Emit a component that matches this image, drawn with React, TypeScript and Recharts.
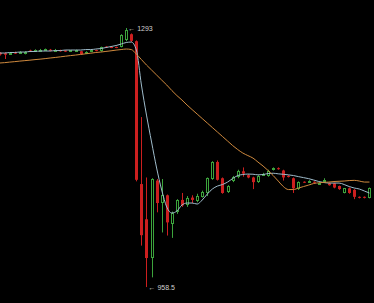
import { Bar, ComposedChart, Line, ReferenceDot, XAxis, YAxis } from "recharts";

const days = Array.from({ length: 74 }, (_unused, i) => `D${i + 1}`);

const opens = [
  1261, 1260.5, 1259, 1261.5, 1260, 1259.5, 1264, 1263, 1263.5, 1264,
  1265, 1263.5, 1264.5, 1264, 1262.5, 1263, 1263, 1260, 1262.5, 1264.5,
  1263, 1269, 1268.5, 1268.5, 1268.5, 1277.5, 1285, 1276, 1091.5, 1046,
  996, 1096, 1067, 1077, 1040, 1055, 1071, 1064, 1074, 1070,
  1075, 1080, 1098, 1120, 1099, 1081, 1095, 1100, 1108, 1103,
  1100, 1094, 1103, 1102, 1110, 1112, 1109, 1102, 1099, 1085,
  1094.5, 1095, 1094.5, 1092, 1095, 1092.5, 1092.5, 1089, 1080, 1086,
  1084, 1075, 1075, 1073.5,
];

const closes = [
  1259, 1258.5, 1261, 1260, 1262, 1262.5, 1262.5, 1264.5, 1265, 1265.5,
  1263.5, 1265, 1263, 1262.5, 1264, 1264.5, 1259, 1262.5, 1264, 1263.5,
  1268.5, 1268, 1267.5, 1267.5, 1284, 1290, 1276.5, 1097, 1025.5, 996,
  1098, 1067, 1077, 1042, 1054, 1071, 1064, 1074, 1071, 1076,
  1081, 1099, 1120, 1097, 1080, 1089, 1101, 1109, 1105, 1100,
  1094, 1102, 1104.5, 1109, 1112, 1111, 1100, 1101, 1086, 1094,
  1093.5, 1096, 1093.5, 1093, 1097, 1090, 1087, 1085, 1086, 1080,
  1075, 1074, 1074, 1086,
];

const highs = [
  1262, 1261.5, 1262, 1262.5, 1263, 1263, 1265, 1265.5, 1266, 1266.5,
  1266, 1266, 1265, 1264.5, 1264.5, 1265, 1263.5, 1263, 1264.5, 1265,
  1269, 1269.5, 1269, 1269, 1285, 1293, 1286, 1277, 1178, 1100,
  1099, 1098, 1098, 1078, 1056, 1072, 1080, 1076, 1077, 1079,
  1083, 1100, 1121, 1122, 1100, 1090, 1102, 1110, 1113, 1104,
  1101, 1103, 1106, 1110, 1113, 1113, 1110, 1103, 1100, 1095,
  1095, 1096.5, 1095, 1093.5, 1099, 1093, 1093, 1089.5, 1086.5, 1087,
  1085, 1075.5, 1075.5, 1087,
];

const lows = [
  1257.5, 1253, 1258.5, 1259.5, 1259.5, 1259, 1262, 1262.5, 1263, 1263.5,
  1263, 1263, 1262.5, 1262, 1262, 1262.5, 1258.5, 1259.5, 1262, 1263,
  1262.5, 1267.5, 1267, 1267, 1268, 1276, 1275, 1095, 1012, 958.5,
  971, 1055, 1029, 1025, 1022, 1053, 1062, 1062, 1067, 1068,
  1074, 1076, 1097, 1096, 1079, 1080, 1094, 1099, 1101, 1099,
  1085, 1093, 1102, 1101, 1109, 1110, 1096, 1100, 1080, 1084,
  1093, 1094.5, 1093, 1091.5, 1094.5, 1089.5, 1086, 1084, 1079.5, 1079,
  1072, 1073, 1073, 1073,
];

// moving averages
const maFast = [
  1260.7, 1260.7, 1261.4, 1261.4, 1262.0, 1262.0, 1262.7, 1262.7, 1263.3, 1263.3,
  1263.3, 1263.9, 1263.9, 1264.6, 1264.6, 1264.6, 1264.6, 1265.2, 1265.2, 1265.9,
  1266.5, 1267.8, 1269.1, 1270.4, 1272.3, 1274.3, 1274.9, 1264.6, 1219.4, 1180.6,
  1145.8, 1112.2, 1083.8, 1061.8, 1054.1, 1056.7, 1064.4, 1067.0, 1067.0, 1065.7,
  1070.9, 1078.6, 1085.1, 1088.9, 1090.9, 1094.1, 1098.6, 1102.5, 1103.8, 1104.4,
  1104.2, 1103.4, 1103.8, 1105.1, 1105.5, 1104.7, 1104.1, 1103.4, 1102.5, 1101.1,
  1099.8, 1098.5, 1096.7, 1094.8, 1093.5, 1092.8, 1092.8, 1092.8, 1090.9, 1088.3,
  1086.4, 1085.1, 1082.5, 1079.9,
];

const maSlow = [
  1247.8, 1248.3, 1249.0, 1249.6, 1250.3, 1250.9, 1251.5, 1252.2, 1252.8, 1253.5,
  1254.3, 1255.0, 1255.8, 1256.6, 1257.4, 1258.1, 1258.9, 1259.7, 1260.5, 1261.4,
  1262.0, 1262.8, 1263.6, 1264.5, 1265.2, 1265.9, 1265.2, 1259.4, 1252.3, 1245.2,
  1238.8, 1232.3, 1225.8, 1219.4, 1212.3, 1205.8, 1200.0, 1193.6, 1187.7, 1181.9,
  1176.1, 1170.3, 1164.5, 1158.7, 1152.9, 1147.1, 1141.2, 1136.1, 1131.6, 1128.3,
  1125.1, 1119.9, 1114.8, 1109.0, 1102.5, 1095.4, 1088.3, 1084.4, 1084.4, 1086.4,
  1088.3, 1090.2, 1092.2, 1093.1, 1093.7, 1094.1, 1094.8, 1095.1, 1095.4, 1096.0,
  1096.3, 1095.4, 1094.1, 1094.1,
];

const UP = "#3ca33c";
const DOWN = "#cc1f1f";

const rows = days.map((day, i) => ({
  day,
  open: opens[i],
  close: closes[i],
  high: highs[i],
  low: lows[i],
  maFast: maFast[i],
  maSlow: maSlow[i],
}));

const highIndex = highs.indexOf(Math.max(...highs));
const lowIndex = lows.indexOf(Math.min(...lows));

function Candle(props: any) {
  const { x, y, width, height } = props;
  const d = props.payload ?? props;
  const top = Math.min(y, y + height);
  const span = Math.abs(height);
  const range = d.high - d.low || 1;
  const toY = (v: number) => top + ((d.high - v) / range) * span;
  const cx = Math.round(x + width / 2);
  const rising = d.close >= d.open;
  const bodyTop = toY(Math.max(d.open, d.close));
  const bodyBottom = toY(Math.min(d.open, d.close));

  if (rising) {
    const t = Math.round(bodyTop) + 0.5;
    const b = Math.max(Math.round(bodyBottom) - 0.5, t + 1);
    return (
      <g>
        <line x1={cx + 0.5} x2={cx + 0.5} y1={toY(d.high)} y2={t} stroke={UP} strokeWidth={1} />
        <line x1={cx + 0.5} x2={cx + 0.5} y1={b} y2={toY(d.low)} stroke={UP} strokeWidth={1} />
        <rect x={cx - 0.5} y={t} width={2} height={b - t} fill="#000" stroke={UP} strokeWidth={1} />
      </g>
    );
  }

  return (
    <g>
      <line x1={cx + 0.5} x2={cx + 0.5} y1={toY(d.high)} y2={toY(d.low)} stroke={DOWN} strokeWidth={1} />
      <rect x={cx - 1} y={bodyTop} width={3} height={Math.max(bodyBottom - bodyTop, 1)} fill={DOWN} />
    </g>
  );
}

const markLabel = {
  position: "right" as const,
  offset: 2,
  fill: "#d0d0d0",
  fontSize: 7,
  fontFamily: "Liberation Sans, Arial, sans-serif",
};

export default function App() {
  return (
    <div
      style={{
        position: "fixed",
        left: 0,
        top: 0,
        width: 374,
        height: 303,
        background: "#000",
        overflow: "hidden",
      }}
    >
      <div style={{ position: "absolute", left: -3, top: 0 }}>
        <ComposedChart width={375} height={303} data={rows} margin={{ top: 0, right: 0, bottom: 0, left: 0 }}>
          <XAxis dataKey="day" hide />
          <YAxis hide type="number" domain={[937.9, 1329.2]} allowDataOverflow />
          <Bar
            dataKey={(d: any) => [d.low, d.high]}
            shape={<Candle />}
            activeBar={false}
            isAnimationActive={false}
          />
          <Line
            type="monotone"
            dataKey="maFast"
            stroke="#9fbccb"
            strokeWidth={1}
            dot={false}
            activeDot={false}
            isAnimationActive={false}
          />
          <Line
            type="monotone"
            dataKey="maSlow"
            stroke="#d08a3e"
            strokeWidth={1}
            dot={false}
            activeDot={false}
            isAnimationActive={false}
          />
          <ReferenceDot
            x={days[highIndex]}
            y={highs[highIndex]}
            r={0}
            fill="none"
            stroke="none"
            label={{ ...markLabel, value: `← ${highs[highIndex]}` }}
          />
          <ReferenceDot
            x={days[lowIndex]}
            y={lows[lowIndex]}
            r={0}
            fill="none"
            stroke="none"
            label={{ ...markLabel, value: `← ${lows[lowIndex]}` }}
          />
        </ComposedChart>
      </div>
    </div>
  );
}
